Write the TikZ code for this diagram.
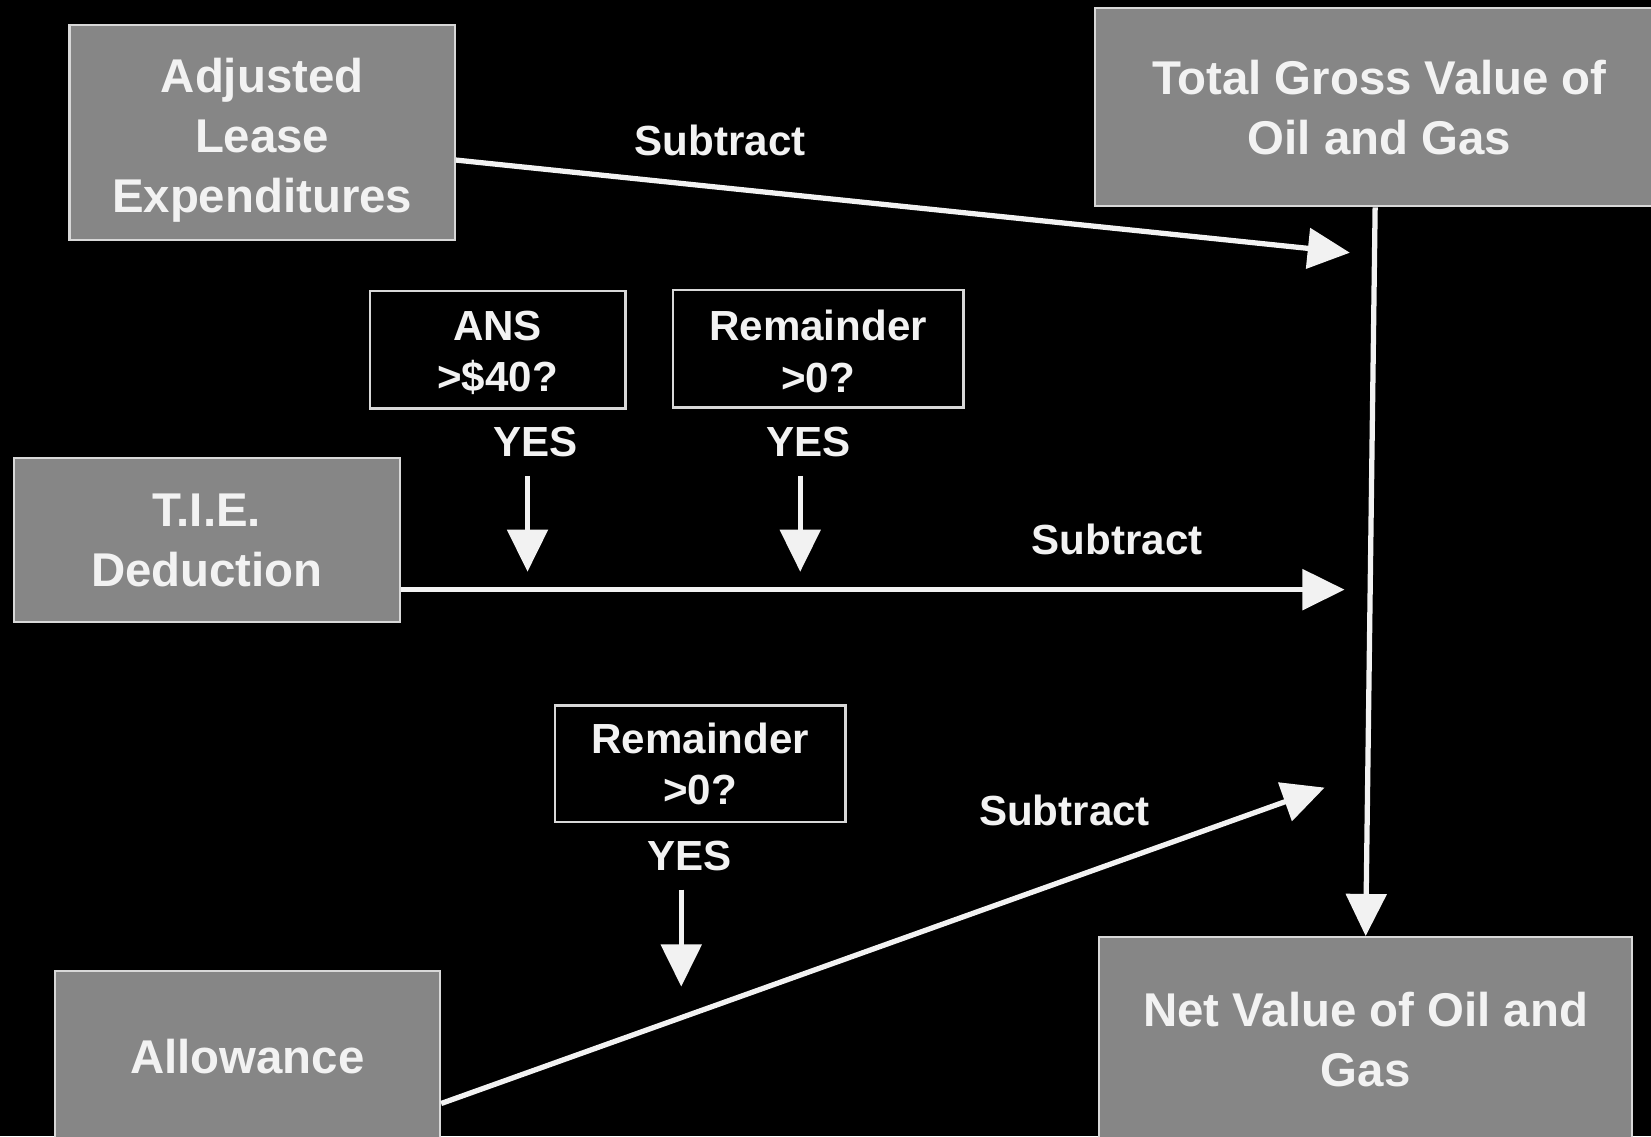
\documentclass[tikz,border=0pt]{standalone}
\usepackage{fontspec}
\setmainfont{Liberation Sans}
\usetikzlibrary{arrows.meta}
\definecolor{boxgray}{HTML}{868686}
\definecolor{ink}{HTML}{F2F2F2}
\definecolor{edge}{HTML}{D8D8D8}
\begin{document}
\begin{tikzpicture}[x=1pt,y=-1pt,
  bigbox/.style={draw=edge, line width=2pt, fill=boxgray, text=ink, font=\fontsize{45}{57}\selectfont\bfseries, align=center, inner sep=0pt},
  qbox/.style={draw=edge, line width=2pt, fill=black, text=ink, font=\fontsize{40}{49}\selectfont\bfseries, align=center, inner sep=0pt},
  lbl/.style={text=ink, font=\fontsize{40}{48}\selectfont\bfseries, inner sep=0pt},
  flow/.style={draw=ink, line width=5pt, -{Triangle[length=40pt,width=38pt]}},
]
\fill[black] (0,0) rectangle (1568,1079);
\useasboundingbox (0,0) rectangle (1568,1079);

% big boxes
\node[bigbox, minimum width=366pt, minimum height=204pt] (adj) at (249,126) {\rule{0pt}{47pt}Adjusted\\Lease\\Expenditures};
\node[bigbox, minimum width=540pt, minimum height=188pt] (tg) at (1310,102) {Total Gross Value of\\Oil and Gas};
\node[bigbox, minimum width=367pt, minimum height=156pt] (tie) at (196.5,513) {T.I.E.\\Deduction};
\node[bigbox, minimum width=366pt, minimum height=163pt] (alw) at (235,1003.5) {Allowance};
\node[bigbox, minimum width=506pt, minimum height=195pt] (net) at (1297,987.5) {Net Value of Oil and\\Gas};

% question boxes
\node[qbox, minimum width=243pt, minimum height=112pt] (ans) at (472.5,332) {\rule{0pt}{34pt}ANS\\>\$40?};
\node[qbox, minimum width=276pt, minimum height=112pt] (rem1) at (777,331) {\rule{0pt}{34pt}Remainder\\>0?};
\node[qbox, minimum width=276pt, minimum height=111pt] (rem2) at (665,725.5) {Remainder\\>0?};

% YES labels
\node[lbl] (y1) at (509,420) {YES};
\node[lbl] (y2) at (768,420) {YES};
\node[lbl] (y3) at (655,813) {YES};

% Subtract labels
\node[lbl] (s1) at (684,133) {Subtract};
\node[lbl] (s2) at (1061,512) {Subtract};
\node[lbl] (s3) at (1011,770) {Subtract};

% free ends
\coordinate (t1) at (1282,240);
\coordinate (t2) at (1277,560);
\coordinate (t3) at (1258,748);
\coordinate (d1s) at (501,452);
\coordinate (d1e) at (501,543);
\coordinate (d2s) at (760,452);
\coordinate (d2e) at (760,543);
\coordinate (d3s) at (647,845);
\coordinate (d3e) at (647,937);

% connectors
\draw[flow] ([yshift=-26pt]adj.east) -- (t1);
\draw[flow] ([yshift=-47pt]tie.east) -- (t2);
\draw[flow] ([yshift=-44.5pt]alw.east) -- (t3);
\draw[flow] ([xshift=-4pt]tg.south) -- (net.north);
\draw[flow] (d1s) -- (d1e);
\draw[flow] (d2s) -- (d2e);
\draw[flow] (d3s) -- (d3e);
\end{tikzpicture}
\end{document}
